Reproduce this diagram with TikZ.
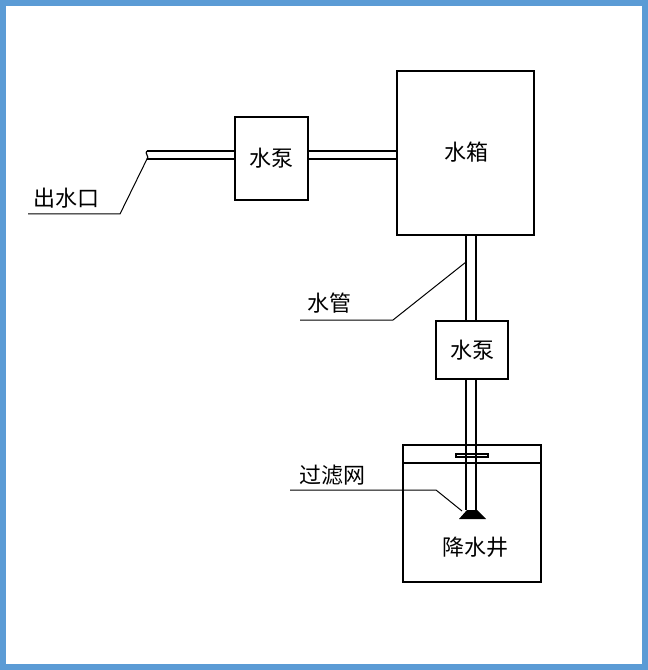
\documentclass[tikz,border=0pt]{standalone}
\usepackage{fontspec}
\newfontfamily\cjk{Noto Sans CJK SC}
\begin{document}
\begin{tikzpicture}[x=0.75pt,y=-0.75pt,line width=0.9pt,
  lbl/.style={font=\cjk\fontsize{16.5}{18}\selectfont,inner sep=0pt},
  lead/.style={line width=0.75pt},
  box/.style={draw,inner sep=0pt}]
\useasboundingbox (0,0) rectangle (648,670);
\draw[line width=4.5pt,color={rgb,255:red,91;green,155;blue,213}] (3,3) rectangle (645,667);
% boxes
\node[box,minimum width=54.75pt,minimum height=62.25pt] (p1) at (271.5,158.5) {};
\node[lbl] at (p1) {水泵};
\node[box,minimum width=102.75pt,minimum height=123pt] (tank) at (465.5,153) {};
\node[lbl] at (466,152) {水箱};
\node[box,minimum width=54pt,minimum height=43.5pt] (p2) at (472,350) {};
\node[lbl] at (p2) {水泵};
\node[box,minimum width=103.5pt,minimum height=102.75pt] (well) at (472,513.5) {};
\node[lbl] at (475,547) {降水井};
\draw (403,463) -- (541,463);
% pipes
\coordinate (le1) at (147,151); \coordinate (le2) at (147,159);
\draw (le1) -- (p1.west |- le1) (le2) -- (p1.west |- le2);
\draw (p1.east |- le1) -- (tank.west |- le1) (p1.east |- le2) -- (tank.west |- le2);
\draw (le1) .. controls (144,153) and (150,157) .. (le2);
\draw (466,235) -- (466,321) (476,235) -- (476,321);
\draw[fill=white] (456,454) rectangle (488,457);
\draw (466,379) -- (466,510) (476,379) -- (476,510);
\fill (467,510) -- (477,510) -- (486,519) -- (459,519) -- cycle;
% leaders
\coordinate (a1) at (120,214); \coordinate (a2) at (28,214);
\draw[lead] (le2) -- (a1) -- (a2);
\node[lbl] at (66,198) {出水口};
\coordinate (b1) at (466,262); \coordinate (b2) at (393,320); \coordinate (b3) at (300,320);
\draw[lead] (b1) -- (b2) -- (b3);
\node[lbl] at (329,303) {水管};
\coordinate (c1) at (462,511); \coordinate (c2) at (436,490); \coordinate (c3) at (290,490);
\draw[lead] (c1) -- (c2) -- (c3);
\node[lbl] at (332,475) {过滤网};
\end{tikzpicture}
\end{document}
